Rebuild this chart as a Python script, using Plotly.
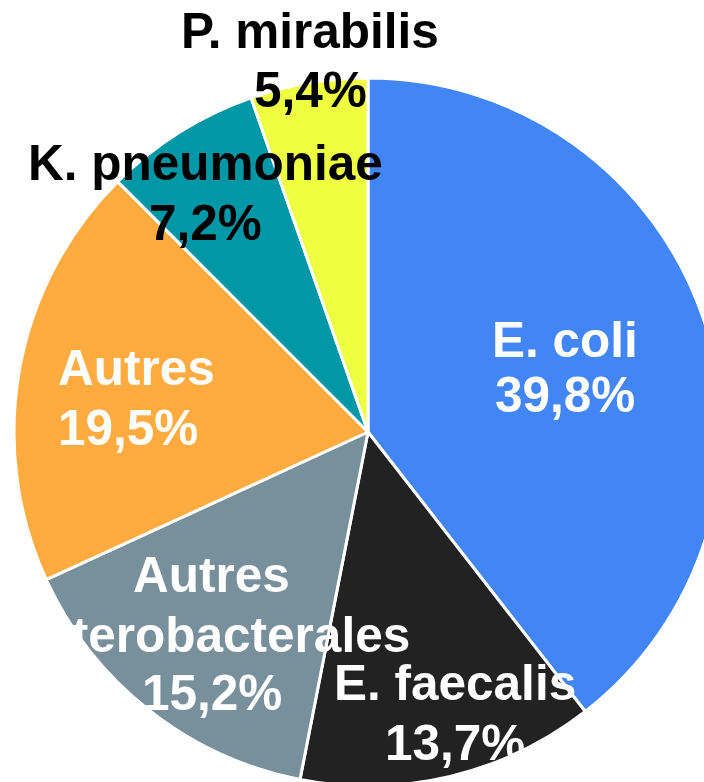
import plotly.graph_objects as go

# ---- data ----
categories = ["E. coli", "E. faecalis", "Autres\nenterobacterales", "Autres",
              "K. pneumoniae", "P. mirabilis"]
values = [39.8, 13.7, 15.2, 19.5, 7.2, 5.4]

# ---- styles ----
colors = ["#4285F4", "#222222", "#78909C", "#FFAB40", "#0097A7", "#EEFF41"]
text_colors = ["white", "white", "white", "white", "black", "black"]
FONT = "Liberation Sans, Arial, sans-serif"
FS = 49.5

W, H = 730, 800
CX, CY, R = 368, 432, 354

# label placement (pixels): x, anchor, baselines of each line
label_pos = [
    (565, "center", [357, 412]),
    (455, "center", [700, 760]),
    (212, "center", [592, 652, 710]),
    (56, "left", [385, 445]),
    (205, "center", [180, 240]),
    (310, "center", [48, 107]),
]

fig = go.Figure(go.Pie(
    labels=[c.replace("\n", " ") for c in categories],
    values=values,
    sort=False,
    direction="clockwise",
    rotation=0,
    textinfo="none",
    hoverinfo="label+percent",
    marker=dict(colors=colors, line=dict(color="white", width=3)),
    domain=dict(x=[(CX - R) / W, (CX + R) / W], y=[1 - (CY + R) / H, 1 - (CY - R) / H]),
    showlegend=False,
))

annotations = []
for cat, val, col, (x, anchor, baselines) in zip(categories, values, text_colors, label_pos):
    lines = cat.split("\n") + [f"{val:.1f}".replace(".", ",") + "%"]
    for line, b in zip(lines, baselines):
        annotations.append(dict(
            text=line, x=x / W, y=1 - (b - 17.5) / H, xref="paper", yref="paper",
            xanchor=anchor, yanchor="middle", showarrow=False,
            font=dict(family=FONT, size=FS, color=col, weight="bold"),
        ))

fig.update_layout(
    width=W, height=H,
    margin=dict(l=0, r=0, t=0, b=0),
    paper_bgcolor="white", plot_bgcolor="white",
    annotations=annotations,
)

fig.write_html(
    "out.html",
    config={"displayModeBar": False},
    post_script="document.body.style.margin='0';document.body.style.overflow='hidden';",
)
